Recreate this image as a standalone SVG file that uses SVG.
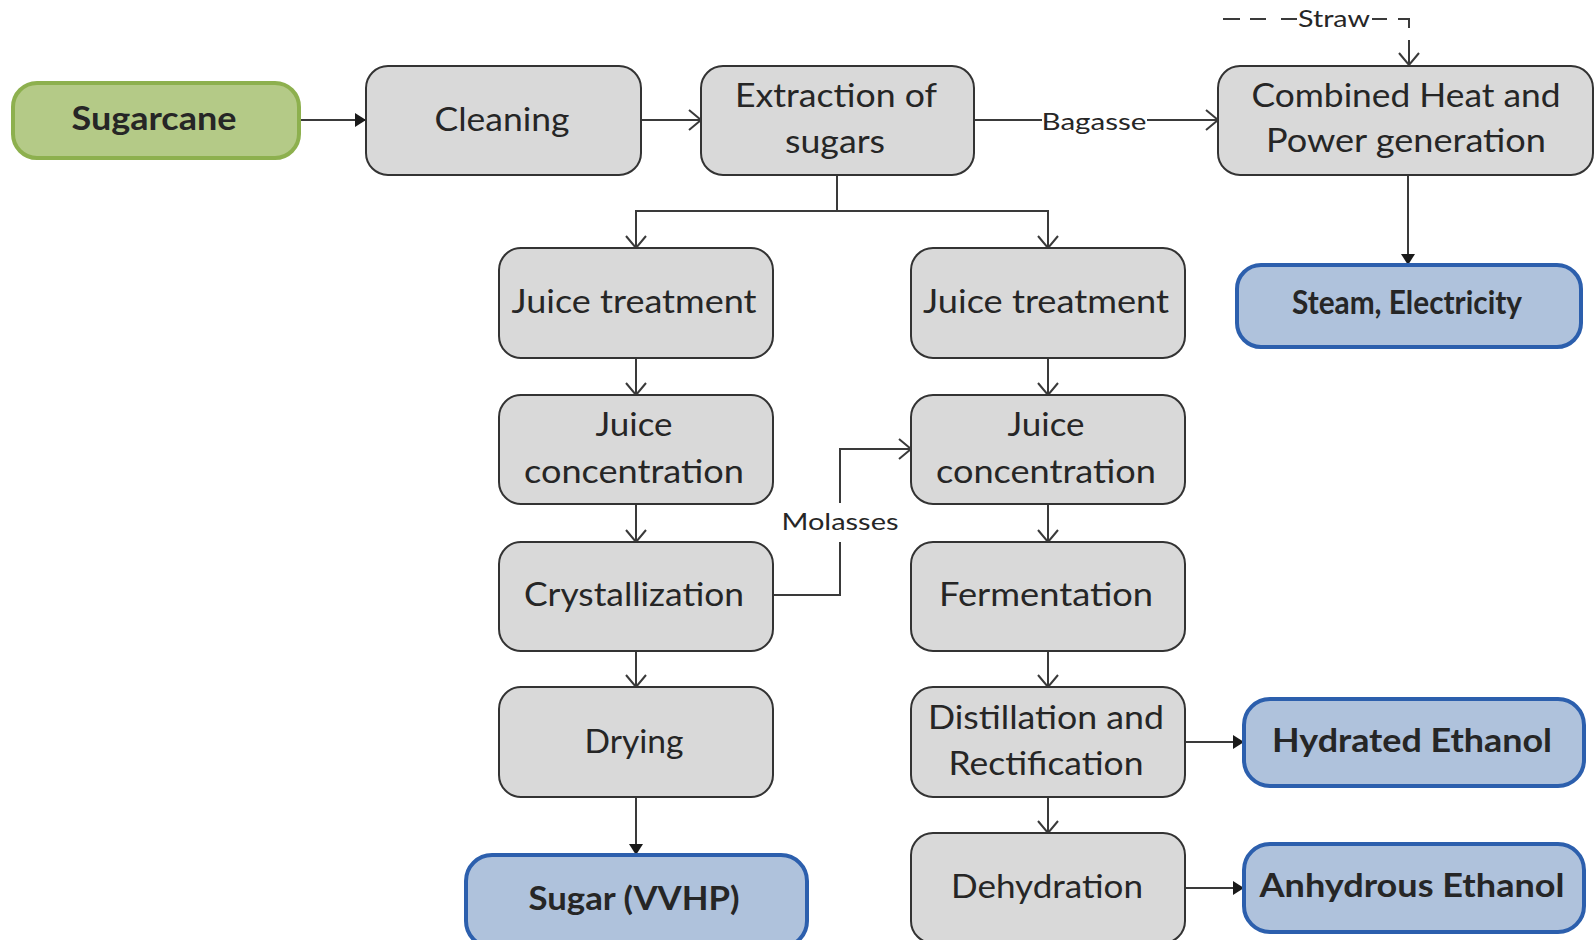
<svg xmlns="http://www.w3.org/2000/svg" width="1595" height="940" viewBox="0 0 1595 940">
  <style>
    .box { fill: #d9d9d9; stroke: #333333; stroke-width: 2; }
    .src { fill: #b4ca87; stroke: #8db04e; stroke-width: 4; }
    .out { fill: #afc2dc; stroke: #2c5fad; stroke-width: 4; }
    .lbl { font-family: "Lato", "Liberation Sans", sans-serif; font-size: 32px; fill: #262626; text-anchor: middle; }
    .bold { font-weight: bold; }
    .small { font-size: 24px; }
    .conn { fill: none; stroke: #3a3a3a; stroke-width: 2; }
    .open { marker-end: url(#openArrow); }
    .solid { marker-end: url(#solidArrow); }
    .bg { fill: #ffffff; }
  </style>
  <defs>
    <marker id="openArrow" markerUnits="userSpaceOnUse" viewBox="0 0 14 22" refX="13" refY="11" markerWidth="14" markerHeight="22" orient="auto">
      <path d="M1 1 L13 11 L1 21" fill="none" stroke="#3a3a3a" stroke-width="2"/>
    </marker>
    <marker id="solidArrow" markerUnits="userSpaceOnUse" viewBox="0 0 11 14" refX="11" refY="7" markerWidth="11" markerHeight="14" orient="auto">
      <path d="M0 0 L11 7 L0 14 z" fill="#1a1a1a"/>
    </marker>
  </defs>

  <rect width="1595" height="940" fill="#ffffff"/>

  <!-- connectors -->
  <g id="connectors">
    <path class="conn solid" d="M299 120 H366"/>
    <path class="conn open" d="M641 120 H701"/>
    <path class="conn open" d="M974 120 H1218"/>
    <path class="conn" d="M837 175 V211"/>
    <path class="conn open" d="M837 211 H636 V248"/>
    <path class="conn open" d="M837 211 H1048 V248"/>
    <path class="conn open" d="M636 358 V395"/>
    <path class="conn open" d="M1048 358 V395"/>
    <path class="conn open" d="M636 504 V542"/>
    <path class="conn open" d="M1048 504 V542"/>
    <path class="conn open" d="M636 651 V687"/>
    <path class="conn open" d="M1048 651 V687"/>
    <path class="conn solid" d="M636 797 V855"/>
    <path class="conn open" d="M1048 797 V833"/>
    <path class="conn open" d="M774 595 H840 V449 H911"/>
    <path class="conn solid" d="M1408 175 V265"/>
    <path class="conn solid" d="M1186 742 H1244"/>
    <path class="conn solid" d="M1186 888 H1244"/>

    <!-- dashed straw feed into the CHP unit -->
    <path class="conn" d="M1223 19 H1240 M1250 19 H1266 M1281 19 H1297 M1372 19 H1387 M1398 19 H1409 V28"/>
    <path class="conn open" d="M1409 40 V65"/>

    <!-- edge labels -->
    <rect class="bg" x="1042" y="106" width="105" height="30"/>
    <text class="lbl small" x="1094" y="130" textLength="105" lengthAdjust="spacingAndGlyphs">Bagasse</text>
    <text class="lbl small" x="1334" y="27" textLength="72" lengthAdjust="spacingAndGlyphs">Straw</text>
    <rect class="bg" x="778" y="503" width="124" height="39"/>
    <text class="lbl small" x="840" y="530" textLength="117" lengthAdjust="spacingAndGlyphs">Molasses</text>
  </g>

  <!-- input -->
  <g id="sugarcane">
    <rect class="src" x="13" y="83" width="286" height="75" rx="24"/>
    <text class="lbl bold" x="154" y="130" textLength="165" lengthAdjust="spacingAndGlyphs">Sugarcane</text>
  </g>

  <!-- top row -->
  <g id="cleaning">
    <rect class="box" x="366" y="66" width="275" height="109" rx="22"/>
    <text class="lbl" x="502" y="131" textLength="135" lengthAdjust="spacingAndGlyphs">Cleaning</text>
  </g>
  <g id="extraction">
    <rect class="box" x="701" y="66" width="273" height="109" rx="22"/>
    <text class="lbl" x="836" y="107" textLength="202" lengthAdjust="spacingAndGlyphs">Extraction of</text>
    <text class="lbl" x="835" y="153" textLength="100" lengthAdjust="spacingAndGlyphs">sugars</text>
  </g>
  <g id="chp">
    <rect class="box" x="1218" y="66" width="375" height="109" rx="22"/>
    <text class="lbl" x="1406" y="107" textLength="309" lengthAdjust="spacingAndGlyphs">Combined Heat and</text>
    <text class="lbl" x="1406" y="152" textLength="280" lengthAdjust="spacingAndGlyphs">Power generation</text>
  </g>
  <g id="steam-electricity">
    <rect class="out" x="1237" y="265" width="344" height="82" rx="24"/>
    <text class="lbl bold" x="1407" y="314" font-size="28" textLength="230" lengthAdjust="spacingAndGlyphs">Steam, Electricity</text>
  </g>

  <!-- sugar line -->
  <g id="juice-treatment-sugar">
    <rect class="box" x="499" y="248" width="274" height="110" rx="22"/>
    <text class="lbl" x="634" y="313" textLength="245" lengthAdjust="spacingAndGlyphs">Juice treatment</text>
  </g>
  <g id="juice-concentration-sugar">
    <rect class="box" x="499" y="395" width="274" height="109" rx="22"/>
    <text class="lbl" x="634" y="436" textLength="77" lengthAdjust="spacingAndGlyphs">Juice</text>
    <text class="lbl" x="634" y="483" textLength="220" lengthAdjust="spacingAndGlyphs">concentration</text>
  </g>
  <g id="crystallization">
    <rect class="box" x="499" y="542" width="274" height="109" rx="22"/>
    <text class="lbl" x="634" y="606" textLength="220" lengthAdjust="spacingAndGlyphs">Crystallization</text>
  </g>
  <g id="drying">
    <rect class="box" x="499" y="687" width="274" height="110" rx="22"/>
    <text class="lbl" x="634" y="753" textLength="99" lengthAdjust="spacingAndGlyphs">Drying</text>
  </g>
  <g id="sugar-vvhp">
    <rect class="out" x="466" y="855" width="341" height="92" rx="26"/>
    <text class="lbl bold" x="634" y="910" textLength="211" lengthAdjust="spacingAndGlyphs">Sugar (VVHP)</text>
  </g>

  <!-- ethanol line -->
  <g id="juice-treatment-ethanol">
    <rect class="box" x="911" y="248" width="274" height="110" rx="22"/>
    <text class="lbl" x="1046" y="313" textLength="246" lengthAdjust="spacingAndGlyphs">Juice treatment</text>
  </g>
  <g id="juice-concentration-ethanol">
    <rect class="box" x="911" y="395" width="274" height="109" rx="22"/>
    <text class="lbl" x="1046" y="436" textLength="77" lengthAdjust="spacingAndGlyphs">Juice</text>
    <text class="lbl" x="1046" y="483" textLength="220" lengthAdjust="spacingAndGlyphs">concentration</text>
  </g>
  <g id="fermentation">
    <rect class="box" x="911" y="542" width="274" height="109" rx="22"/>
    <text class="lbl" x="1046" y="606" textLength="214" lengthAdjust="spacingAndGlyphs">Fermentation</text>
  </g>
  <g id="distillation">
    <rect class="box" x="911" y="687" width="274" height="110" rx="22"/>
    <text class="lbl" x="1046" y="729" textLength="236" lengthAdjust="spacingAndGlyphs">Distillation and</text>
    <text class="lbl" x="1046" y="775" textLength="195" lengthAdjust="spacingAndGlyphs">Rectification</text>
  </g>
  <g id="dehydration">
    <rect class="box" x="911" y="833" width="274" height="110" rx="22"/>
    <text class="lbl" x="1047" y="898" textLength="192" lengthAdjust="spacingAndGlyphs">Dehydration</text>
  </g>
  <g id="hydrated-ethanol">
    <rect class="out" x="1244" y="699" width="340" height="87" rx="26"/>
    <text class="lbl bold" x="1412" y="752" textLength="280" lengthAdjust="spacingAndGlyphs">Hydrated Ethanol</text>
  </g>
  <g id="anhydrous-ethanol">
    <rect class="out" x="1244" y="844" width="340" height="88" rx="26"/>
    <text class="lbl bold" x="1412" y="897" textLength="305" lengthAdjust="spacingAndGlyphs">Anhydrous Ethanol</text>
  </g>
</svg>
